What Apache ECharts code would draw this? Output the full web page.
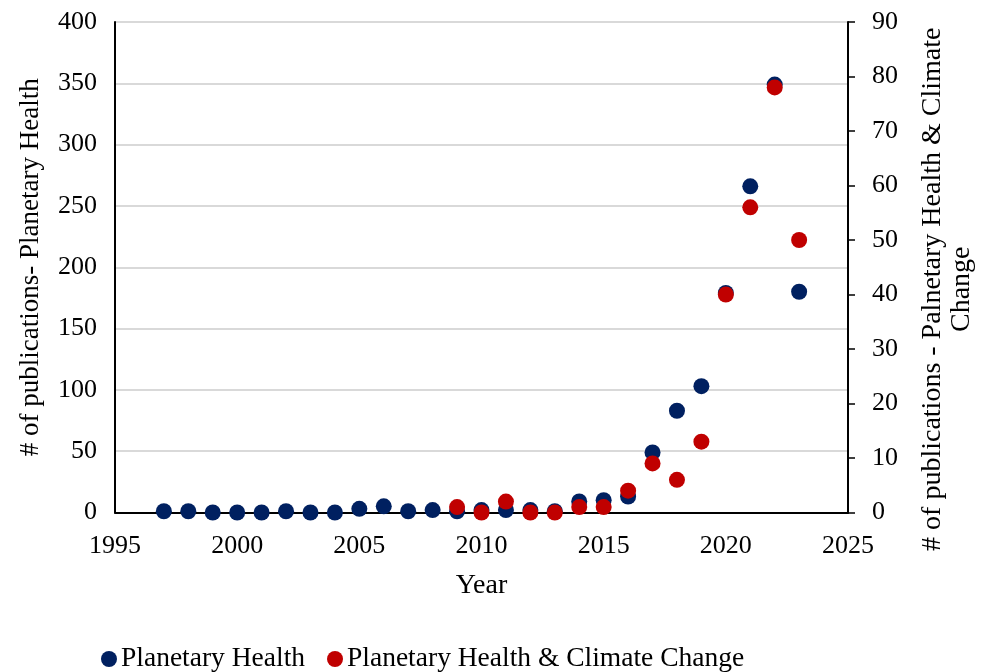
<!DOCTYPE html>
<html>
<head>
<meta charset="utf-8">
<script src="https://cdn.jsdelivr.net/npm/echarts@6/dist/echarts.min.js"></script>
<style>
  html, body { margin: 0; padding: 0; background: #fff; }
  #chart { width: 989px; height: 672px; }
</style>
</head>
<body>
<div id="chart"></div>
<script>
// Publication counts per year
const years = [1997, 1998, 1999, 2000, 2001, 2002, 2003, 2004, 2005, 2006, 2007, 2008, 2009, 2010,
               2011, 2012, 2013, 2014, 2015, 2016, 2017, 2018, 2019, 2020, 2021, 2022, 2023];
const planetaryHealth = [1, 1, 0, 0, 0, 1, 0, 0, 3, 5, 1, 2, 1, 2,
                         2, 2, 1, 9, 10, 13, 49, 83, 103, 179, 266, 349, 180];

const climateYears = [2009, 2010, 2011, 2012, 2013, 2014, 2015, 2016, 2017, 2018, 2019, 2020, 2021, 2022, 2023];
const phClimate = [1, 0, 2, 0, 0, 1, 1, 4, 9, 6, 13, 40, 56, 78, 50];

const seriesNames = ['Planetary Health', 'Planetary Health & Climate Change'];
const xAxisTitle = 'Year';
const leftAxisTitle = '# of publications- Planetary Health';
const rightAxisTitle = '# of publications - Palnetary Health & Climate\nChange';

const serif = '"Liberation Serif", "Times New Roman", serif';
const navy = '#002060';
const red = '#C00000';

const chart = echarts.init(document.getElementById('chart'), null, { renderer: 'canvas' });

chart.setOption({
  backgroundColor: '#ffffff',
  animation: false,
  textStyle: { fontFamily: serif, color: '#000' },
  grid: {
    left: 115, right: 141, top: 22, bottom: 159.5,
    containLabel: false,
    outerBoundsMode: 'none'
  },
  legend: {
    top: 640,
    left: 96,
    itemWidth: 16,
    itemHeight: 16,
    itemGap: 22,
    icon: 'circle',
    textStyle: { fontFamily: serif, fontSize: 27.5, color: '#000', padding: [0, 0, 0, -1] },
    data: seriesNames
  },
  xAxis: {
    type: 'value',
    min: 1995,
    max: 2025,
    interval: 5,
    name: xAxisTitle,
    nameLocation: 'middle',
    nameGap: 59,
    nameTextStyle: { fontFamily: serif, fontSize: 28, color: '#000' },
    axisLine: { show: true, onZero: false, lineStyle: { color: '#000', width: 2 } },
    axisTick: { show: false },
    splitLine: { show: false },
    axisLabel: {
      fontFamily: serif, fontSize: 26, color: '#000', margin: 21,
      formatter: v => String(v)
    }
  },
  yAxis: [
    {
      type: 'value',
      min: 0,
      max: 400,
      interval: 50,
      position: 'left',
      name: leftAxisTitle,
      nameLocation: 'middle',
      nameGap: 71,
      nameTextStyle: { fontFamily: serif, fontSize: 27, color: '#000' },
      axisLine: { show: true, lineStyle: { color: '#000', width: 2 } },
      axisTick: { show: false },
      splitLine: { show: true, lineStyle: { color: '#d9d9d9', width: 2 } },
      axisLabel: { fontFamily: serif, fontSize: 26, color: '#000', margin: 18 }
    },
    {
      type: 'value',
      min: 0,
      max: 90,
      interval: 10,
      position: 'right',
      name: rightAxisTitle,
      nameLocation: 'middle',
      nameGap: 70,
      nameRotate: 90,
      nameTextStyle: { fontFamily: serif, fontSize: 28, color: '#000', lineHeight: 29, padding: [0, 44, 0, 0] },
      axisLine: { show: true, lineStyle: { color: '#000', width: 2 } },
      axisTick: { show: true, inside: false, length: 7, lineStyle: { color: '#000', width: 1.5 } },
      splitLine: { show: false },
      axisLabel: { fontFamily: serif, fontSize: 26, color: '#000', margin: 24 }
    }
  ],
  series: [
    {
      name: seriesNames[0],
      type: 'scatter',
      yAxisIndex: 0,
      symbol: 'circle',
      symbolSize: 16,
      itemStyle: { color: navy, opacity: 1 },
      data: years.map((y, i) => [y, planetaryHealth[i]])
    },
    {
      name: seriesNames[1],
      type: 'scatter',
      yAxisIndex: 1,
      symbol: 'circle',
      symbolSize: 16,
      itemStyle: { color: red, opacity: 1 },
      data: climateYears.map((y, i) => [y, phClimate[i]])
    }
  ]
});
</script>
</body>
</html>
